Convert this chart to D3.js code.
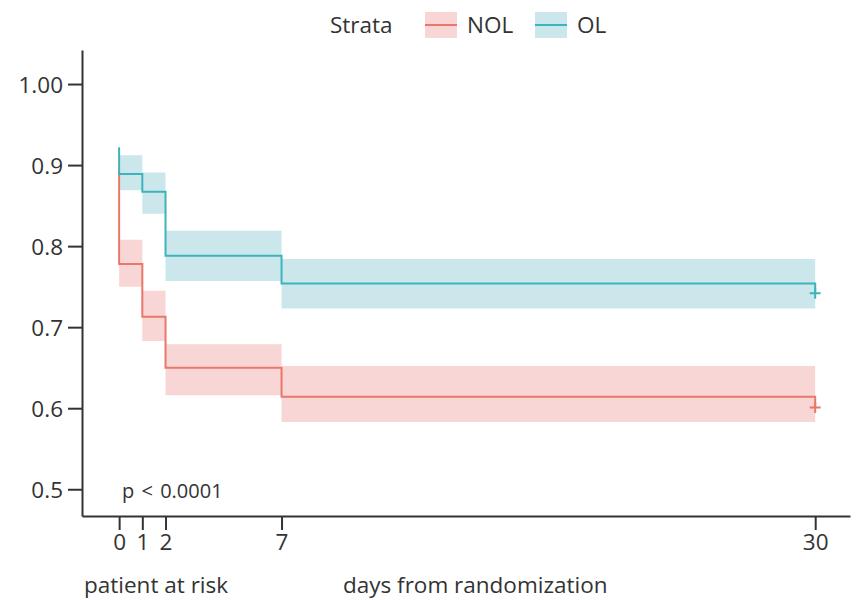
<!DOCTYPE html>
<html>
<head>
<meta charset="utf-8">
<script src="https://cdn.jsdelivr.net/npm/d3@7"></script>
<style>
  body { margin: 0; background: #fff; }
  svg text { font-family: "Open Sans", "Noto Sans", sans-serif; fill: #333; }
</style>
</head>
<body>
<div id="chart"></div>
<script>
// step times and survival estimates
const times = [0, 1, 2, 7, 30];
const xTicks = [0, 1, 2, 7, 30];
const yTicks = [0.5, 0.6, 0.7, 0.8, 0.9, 1.0];
const yTickLabels = ["0.5", "0.6", "0.7", "0.8", "0.9", "1.00"];

const olStart = 0.922;
const olSurv = [0.889, 0.867, 0.788, 0.754, 0.742];
const olUpper = [0.912, 0.891, 0.819, 0.784];
const olLower = [0.869, 0.840, 0.757, 0.723];

const nolStart = 0.892;
const nolSurv = [0.778, 0.713, 0.650, 0.614, 0.601];
const nolUpper = [0.808, 0.745, 0.679, 0.652];
const nolLower = [0.750, 0.683, 0.616, 0.583];

const strata = ["NOL", "OL"];

const width = 856, height = 600;
const margin = { top: 50, right: 6, bottom: 84, left: 82 };
const fontSize = "22.5px";

const svg = d3.select("#chart").append("svg")
  .attr("width", width)
  .attr("height", height);

const x = d3.scaleLinear()
  .domain([-1.6, 31.5])
  .range([margin.left, width - margin.right]);

const y = d3.scaleLinear()
  .domain([0.467, 1.042])
  .range([height - margin.bottom, margin.top]);

const colors = {
  NOL: { line: "#E9776A", band: "#F7D6D5" },
  OL: { line: "#3DB4BA", band: "#CCE7EB" }
};

function bandPoints(lower, upper) {
  const pts = lower.map((l, i) => ({ t: times[i], lo: l, hi: upper[i] }));
  pts.push({ t: times[times.length - 1], lo: lower[lower.length - 1], hi: upper[upper.length - 1] });
  return pts;
}

function curvePoints(start, surv) {
  return [{ t: 0, s: start }].concat(surv.map((s, i) => ({ t: times[i], s: s })));
}

const area = d3.area()
  .curve(d3.curveStepAfter)
  .x(d => x(d.t))
  .y0(d => y(d.lo))
  .y1(d => y(d.hi));

const line = d3.line()
  .curve(d3.curveStepAfter)
  .x(d => x(d.t))
  .y(d => y(d.s));

const series = [
  { name: "NOL", start: nolStart, surv: nolSurv, lower: nolLower, upper: nolUpper },
  { name: "OL", start: olStart, surv: olSurv, lower: olLower, upper: olUpper }
];

// confidence bands
series.forEach(s => {
  svg.append("path")
    .datum(bandPoints(s.lower, s.upper))
    .attr("d", area)
    .attr("fill", colors[s.name].band);
});

// survival curves + censor marks
series.forEach(s => {
  svg.append("path")
    .datum(curvePoints(s.start, s.surv))
    .attr("d", line)
    .attr("fill", "none")
    .attr("stroke", colors[s.name].line)
    .attr("stroke-width", 2);

  const cx = x(times[times.length - 1]), cy = y(s.surv[s.surv.length - 1]);
  svg.append("path")
    .attr("d", `M${cx - 5.5},${cy}H${cx + 5.5}M${cx},${cy - 5.5}V${cy + 5.5}`)
    .attr("stroke", colors[s.name].line)
    .attr("stroke-width", 2);
});

// axes
const yAxis = svg.append("g")
  .attr("transform", "translate(" + margin.left + ",0)")
  .call(d3.axisLeft(y).tickValues(yTicks).tickFormat((d, i) => yTickLabels[i]).tickSize(14).tickPadding(5).tickSizeOuter(0));
const xAxis = svg.append("g")
  .attr("transform", "translate(0," + (height - margin.bottom) + ")")
  .call(d3.axisBottom(x).tickValues(xTicks).tickSize(14).tickPadding(4).tickSizeOuter(0));

[yAxis, xAxis].forEach(g => {
  g.selectAll(".domain, .tick line").attr("stroke", "#333").attr("stroke-width", 2);
  g.selectAll("text").style("font-size", fontSize).attr("fill", "#333");
});

yAxis.selectAll("text").attr("dy", "0.36em");

// p value
svg.append("text")
  .attr("x", x(0) + 3)
  .attr("y", y(0.5) + 9)
  .style("font-size", "20px")
  .style("word-spacing", "2px")
  .text("p < 0.0001");

// bottom labels
svg.append("text")
  .attr("x", 84)
  .attr("y", 593)
  .style("font-size", fontSize)
  .text("patient at risk");
svg.append("text")
  .attr("x", 343)
  .attr("y", 593)
  .style("font-size", fontSize)
  .text("days from randomization");

// legend
const legend = svg.append("g");
legend.append("text")
  .attr("x", 330)
  .attr("y", 33)
  .style("font-size", fontSize)
  .text("Strata");

const legendX = [425, 535];
strata.forEach((name, i) => {
  const g = legend.append("g").attr("transform", "translate(" + legendX[i] + ",12)");
  g.append("rect")
    .attr("width", 32).attr("height", 26)
    .attr("fill", colors[name].band);
  g.append("line")
    .attr("x1", 0).attr("x2", 32).attr("y1", 13).attr("y2", 13)
    .attr("stroke", colors[name].line).attr("stroke-width", 2);
  g.append("text")
    .attr("x", 42).attr("y", 21)
    .style("font-size", fontSize)
    .text(name);
});
</script>
</body>
</html>
